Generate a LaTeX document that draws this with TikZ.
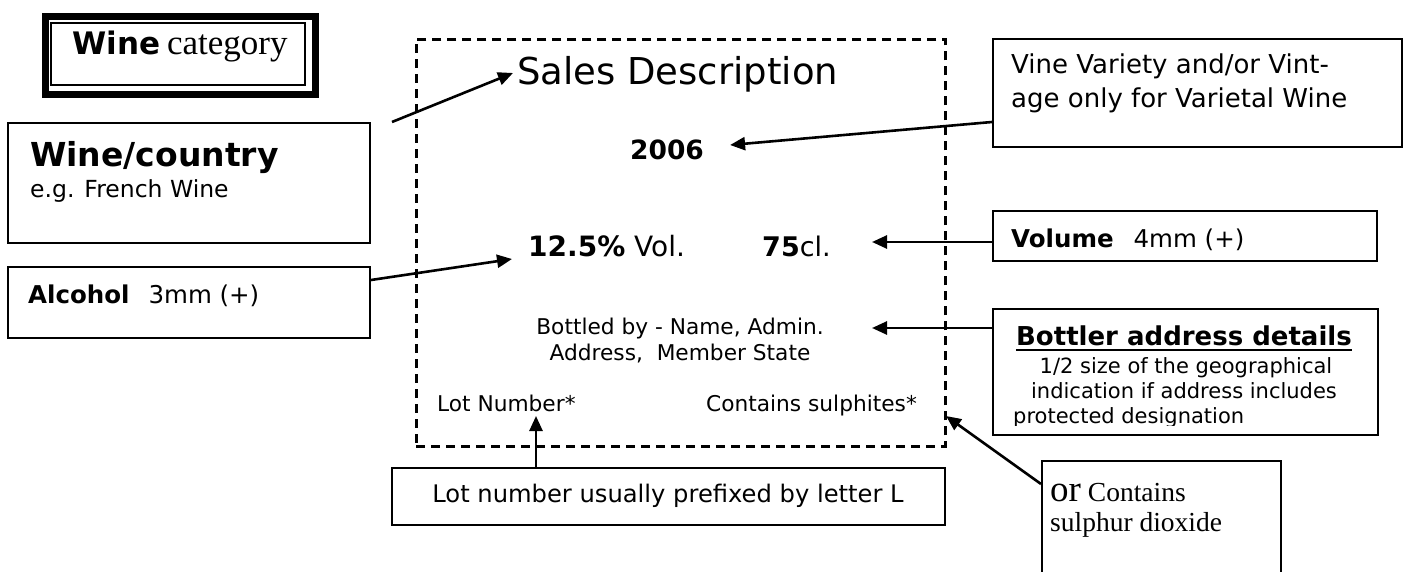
\documentclass[tikz,border=0pt]{standalone}
\usepackage{fontspec}
\usetikzlibrary{arrows.meta,calc}
\newfontfamily\verd{DejaVu Sans}
\newfontfamily\tms{Liberation Serif}
\newcommand{\fs}[1]{\fontsize{#1}{#1}\selectfont}
\tikzset{
  box/.style={draw,line width=2pt,rectangle,anchor=north west,inner sep=0pt},
  txt/.style={inner sep=0pt,anchor=base west},
  txtc/.style={inner sep=0pt,anchor=base},
  arr/.style={line width=2.6pt,-{Triangle[length=15pt,width=13pt]}},
}
\begin{document}
\begin{tikzpicture}[x=1pt,y=-1pt]
\useasboundingbox[fill=white] (0,0) rectangle (1407,572);
% Wine category double frame
\node[draw,line width=7pt,rectangle,anchor=north west,inner sep=0pt,minimum width=270pt,minimum height=78pt] (catout) at (41.5,13.5) {};
\node[draw,line width=2pt,rectangle,anchor=north west,inner sep=0pt,minimum width=254pt,minimum height=62pt] (catin) at (50,22) {};
\node[txt] (cat) at (72,55) {\verd\bfseries\fs{31}Wine\hspace{7pt}\tms\mdseries\fs{35}category};
% Wine/country
\node[box,minimum width=362pt,minimum height=120pt] (country) at (7,122) {};
\node[txt] (countryt) at (30,167) {\verd\bfseries\fs{33}Wine/country};
\node[txt] (countrye) at (30,197) {\verd\fs{23.5}e.g. French Wine};
% Alcohol
\node[box,minimum width=362pt,minimum height=71pt] (alc) at (7,266) {};
\node[txt] (alct) at (28,303) {\verd\fs{24.5}\bfseries Alcohol\mdseries\hspace{19pt}3mm (+)};
% dashed label
\node[draw,line width=2.6pt,dash pattern=on 9pt off 6pt,rectangle,anchor=north west,inner sep=0pt,minimum width=529pt,minimum height=407pt] (label) at (415,38) {};
\node[txt] (sales) at (517,85) {\verd\fs{37}Sales Description};
\node[txtc] (year) at (667,160) {\verd\bfseries\fs{26.5}2006};
\node[txt] (alcv) at (528,256) {\verd\fs{28}\bfseries 12.5\%\mdseries\ Vol.};
\node[txt] (vol) at (762,256) {\verd\fs{27}\bfseries 75\mdseries cl.};
\node[txtc] (bottled1) at (680,334) {\verd\fs{21.7}Bottled by - Name, Admin.};
\node[txtc] (bottled2) at (680,360) {\verd\fs{21.7}Address,\ \ Member State};
\node[txt] (lot) at (437,411) {\verd\fs{21.7}Lot Number*};
\node[txt] (sulph) at (706,411) {\verd\fs{21.7}Contains sulphites*};
% Vine variety
\node[box,minimum width=409pt,minimum height=108pt] (vine) at (992,38) {};
\node[txt] (vinet1) at (1011,74) {\verd\fs{26}Vine Variety and/or Vint-};
\node[txt] (vinet2) at (1011,108) {\verd\fs{26}age only for Varietal Wine};
% Volume
\node[box,minimum width=384pt,minimum height=50pt] (volb) at (992,210) {};
\node[txt] (volt) at (1011,247) {\verd\fs{24.5}\bfseries Volume\mdseries\hspace{20pt}4mm (+)};
% Bottler
\node[box,minimum width=385pt,minimum height=126pt] (bot) at (992,308) {};
\node[txtc] (bott) at (1184,345) {\verd\bfseries\fs{26}Bottler address details};
\draw[line width=2pt] ([yshift=-5pt]bott.base west) -- ([yshift=-5pt]bott.base east);
\node[txtc] (bot1) at (1186,373) {\verd\fs{21}1/2 size of the geographical};
\node[txtc] (bot2) at (1184,398) {\verd\fs{21}indication if address includes};
\begin{scope}
\clip (995,400) rectangle (1370,425);
\node[txt] (bot3) at (1013,423) {\verd\fs{21}protected designation};
\end{scope}
% Lot box
\node[box,minimum width=553pt,minimum height=57pt] (lotb) at (391,467) {};
\node[txtc] (lott) at (668,502) {\verd\fs{24.2}Lot number usually prefixed by letter L};
% or contains
\node[box,minimum width=239pt,minimum height=160pt] (orb) at (1041,460) {};
\node[txt] (ort) at (1050,501) {\tms\fs{37}or\fs{27.5} Contains};
\node[txt] (ort2) at (1050,531) {\tms\fs{27.5}sulphur dioxide};
% connectors
\coordinate (s1) at (392,122);
\coordinate (s1t) at ($(sales.base west)+(-4,-12)$);
\draw[arr] (s1) -- (s1t);
\coordinate (v1) at (vine.west |- 0,122);
\coordinate (v1t) at ($(year.base east)+(26,-15)$);
\draw[arr] (v1) -- (v1t);
\coordinate (a1) at (alc.north east |- 0,280);
\coordinate (a1t) at ($(alcv.base west)+(-16,3)$);
\draw[arr] (a1) -- (a1t);
\coordinate (vo1) at (volb.west |- 0,242);
\coordinate (vo1t) at (872,242);
\draw[arr] (vo1) -- (vo1t);
\coordinate (b1) at (bot.west |- 0,328);
\coordinate (b1t) at (872,328);
\draw[arr] (b1) -- (b1t);
\coordinate (l1) at (lotb.north west -| 536,0);
\coordinate (l1t) at (536,416);
\draw[arr] (l1) -- (l1t);
\coordinate (o1) at (orb.north west |- 0,484);
\coordinate (o1t) at (946,416);
\draw[arr] (o1) -- (o1t);
\end{tikzpicture}
\end{document}
